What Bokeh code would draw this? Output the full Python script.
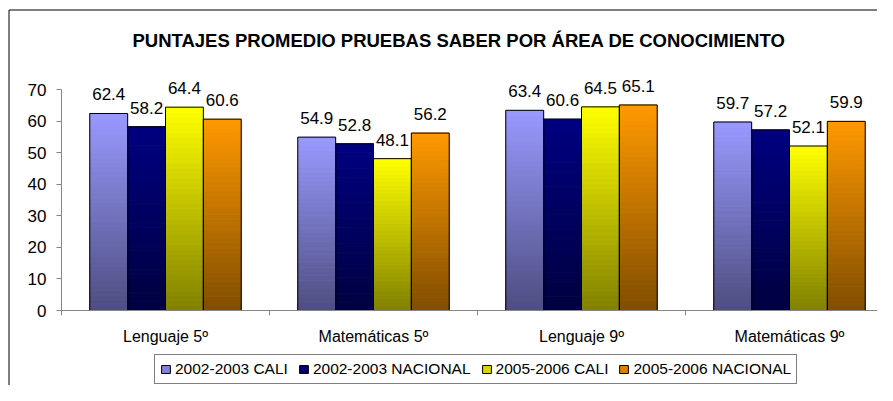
from bokeh.plotting import figure
from bokeh.models import (ColumnDataSource, FixedTicker, Label, LabelSet, Legend,
                          LegendItem, Range1d)
from bokeh.core.properties import value
from bokeh.embed import file_html
from bokeh.resources import INLINE

# ---------------- data ----------------
categories = ["Lenguaje 5º", "Matemáticas 5º", "Lenguaje 9º", "Matemáticas 9º"]
series_names = ["2002-2003 CALI", "2002-2003 NACIONAL", "2005-2006 CALI", "2005-2006 NACIONAL"]
cali_2002 = [62.4, 54.9, 63.4, 59.7]
nacional_2002 = [58.2, 52.8, 60.6, 57.2]
cali_2005 = [64.4, 48.1, 64.5, 52.1]
nacional_2005 = [60.6, 56.2, 65.1, 59.9]
y_ticks = [0, 10, 20, 30, 40, 50, 60, 70]
title_text = "PUNTAJES PROMEDIO PRUEBAS SABER POR ÁREA DE CONOCIMIENTO"

series_values = [cali_2002, nacional_2002, cali_2005, nacional_2005]

# ---------------- style / layout ----------------
top_colors = [(153, 153, 255), (0, 0, 128), (255, 255, 0), (255, 153, 0)]
bottom_colors = [(77, 77, 128), (0, 0, 64), (128, 128, 0), (128, 77, 0)]
FONT = "Liberation Sans"
AXIS_GRAY = "#868686"
BAR_W = 0.182
N_STEPS = 40

W, H = 877, 385          # canvas size
X0_PX, X_UNIT_PX = 61, 208   # pixel of category axis start, pixels per category
Y0_PX = 310                  # pixel of value 0
Y_UNIT_PX = 221 / 70         # pixels per value unit


def px2x(px):
    return (px - X0_PX) / X_UNIT_PX


def py2y(py):
    return (Y0_PX - py) / Y_UNIT_PX


def hexc(c):
    return "#%02x%02x%02x" % tuple(int(round(v)) for v in c)


def mix(a, b, t):
    return tuple(a[i] + (b[i] - a[i]) * t for i in range(3))


p = figure(width=W, height=H, output_backend="svg", toolbar_location=None,
           x_range=Range1d(px2x(0), px2x(W)), y_range=Range1d(py2y(H), py2y(0)),
           min_border=0, min_border_left=0, min_border_right=0,
           min_border_top=0, min_border_bottom=0)
p.xgrid.grid_line_color = None
p.ygrid.grid_line_color = None
p.outline_line_color = None
p.background_fill_color = "white"
p.border_fill_color = "white"

# chart-area frame (left and top edges)
p.line(x=[px2x(8.5), px2x(8.5), px2x(W)], y=[py2y(H), py2y(9.5), py2y(9.5)],
       line_color="black", line_width=1)

# gradient bar bodies
seg = dict(x=[], bottom=[], top=[], color=[])
outline = dict(x=[], top=[])
lab = dict(x=[], y=[], text=[])
first_x = []
for s, vals in enumerate(series_values):
    for c, v in enumerate(vals):
        xc = c + 0.5 + (s - 1.5) * BAR_W
        if c == 0:
            first_x.append(xc)
        for k in range(N_STEPS):
            t = (k + 0.5) / N_STEPS
            seg["x"].append(xc)
            seg["bottom"].append(v * k / N_STEPS)
            seg["top"].append(v * (k + 1) / N_STEPS)
            seg["color"].append(hexc(mix(bottom_colors[s], top_colors[s], t)))
        outline["x"].append(xc)
        outline["top"].append(v)
        lab["x"].append(xc)
        lab["y"].append(v)
        lab["text"].append("%.1f" % v)

p.vbar(x="x", bottom="bottom", top="top", width=BAR_W, source=ColumnDataSource(seg),
       fill_color="color", line_color="color", line_width=1)

# legend proxies: zero-height bars sitting on the baseline (hidden under the outlines)
items = []
for s, name in enumerate(series_names):
    r = p.vbar(x=[first_x[s]], top=[0], bottom=[0], width=BAR_W,
               fill_color=hexc(mix(bottom_colors[s], top_colors[s], 0.7)),
               line_color="black", line_width=1)
    items.append(LegendItem(label=name, renderers=[r]))

p.vbar(x="x", top="top", bottom=0, width=BAR_W, source=ColumnDataSource(outline),
       fill_color=None, line_color="black", line_width=1)

labels = LabelSet(x="x", y="y", text="text", source=ColumnDataSource(lab),
                  y_offset=13, text_align="center", text_baseline="alphabetic",
                  text_font=value(FONT), text_font_size="17px", text_color="black")
p.add_layout(labels)

# axes (fixed inside the frame)
xa = p.xaxis[0]
xa.fixed_location = 0
xa.bounds = (0, len(categories))
xa.ticker = FixedTicker(ticks=[i + 0.5 for i in range(len(categories))],
                        minor_ticks=list(range(len(categories) + 1)))
xa.major_label_overrides = {i + 0.5: cat for i, cat in enumerate(categories)}
xa.major_tick_line_color = None
xa.major_tick_out = 0
xa.major_tick_in = 0
xa.minor_tick_out = 5
xa.minor_tick_in = 0
xa.minor_tick_line_color = AXIS_GRAY
xa.axis_line_color = AXIS_GRAY
xa.major_label_standoff = 12
xa.major_label_text_font = FONT
xa.major_label_text_font_size = "16px"
xa.major_label_text_color = "black"

ya = p.yaxis[0]
ya.fixed_location = 0
ya.bounds = (y_ticks[0], y_ticks[-1])
ya.ticker = FixedTicker(ticks=y_ticks, minor_ticks=[])
ya.major_tick_out = 5
ya.major_tick_in = 0
ya.major_tick_line_color = AXIS_GRAY
ya.axis_line_color = AXIS_GRAY
ya.minor_tick_line_color = None
ya.major_label_standoff = 10
ya.major_label_text_font = FONT
ya.major_label_text_font_size = "17px"
ya.major_label_text_color = "black"

# title
p.add_layout(Label(x=px2x(458.5), y=py2y(39.5), text=title_text,
                   text_font=FONT, text_font_style="bold", text_font_size="18.5px",
                   text_align="center", text_baseline="alphabetic", text_color="black"))

# legend
legend = Legend(items=items, location=(154, 1), orientation="horizontal",
                padding=5, spacing=10, label_standoff=4, glyph_width=11, glyph_height=10,
                label_height=15, label_text_font=FONT, label_text_font_size="15.5px",
                label_text_color="black", border_line_color="black", border_line_width=1,
                background_fill_color="white", background_fill_alpha=1.0)
p.add_layout(legend, "center")

open("out.html", "w").write(file_html(p, INLINE))
